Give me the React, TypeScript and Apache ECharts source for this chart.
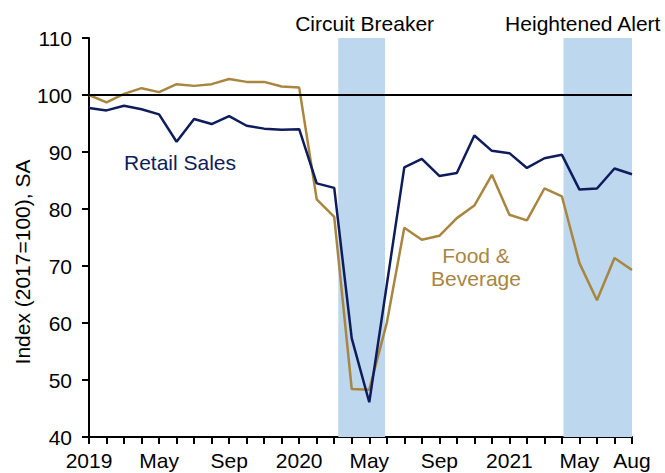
import React, { useEffect, useRef } from "react";
import * as echarts from "echarts";

const xLabels = [
  "2019", "", "", "", "May", "", "", "", "Sep", "", "", "",
  "2020", "", "", "", "May", "", "", "", "Sep", "", "", "",
  "2021", "", "", "", "May", "", "", "Aug",
];

const retailSales = [
  97.7, 97.3, 98.1, 97.5, 96.6, 91.8, 95.8, 94.9, 96.3, 94.6, 94.1, 93.9,
  94.0, 84.5, 83.7, 57.3, 46.1, 66.7, 87.3, 88.8, 85.8, 86.3, 92.9, 90.2,
  89.8, 87.2, 88.9, 89.5, 83.4, 83.6, 87.1, 86.1,
];

const foodBeverage = [
  100.0, 98.7, 100.2, 101.2, 100.5, 101.9, 101.6, 101.9, 102.8, 102.3, 102.3, 101.5,
  101.3, 81.7, 78.6, 48.4, 48.3, 60.0, 76.7, 74.6, 75.3, 78.4, 80.6, 86.0,
  79.0, 78.0, 83.6, 82.2, 70.5, 64.0, 71.4, 69.3,
];

const periods = [
  { name: "Circuit Breaker", from: 14.23, to: 16.9 },
  { name: "Heightened Alert", from: 27.09, to: 31 },
];

const NAVY = "#0E1C5C";
const GOLD = "#A8863F";
const SHADE = "#BDD7EE";
const FONT = "'Liberation Sans', Arial, sans-serif";
const FS = 21;

export default function App() {
  const ref = useRef<HTMLDivElement>(null);

  useEffect(() => {
    if (!ref.current) return;
    const chart = echarts.init(ref.current, undefined, { renderer: "svg" });
    const option = {
      animation: false,
      backgroundColor: "#ffffff",
      textStyle: { fontFamily: FONT },
      grid: { left: 89, right: 33, top: 38, bottom: 36, containLabel: false },
      xAxis: {
        type: "value",
        min: 0,
        max: xLabels.length - 1,
        interval: 1,
        splitLine: { show: false },
        axisLine: { show: true, lineStyle: { color: "#000", width: 2 } },
        axisTick: { show: true, length: 7, lineStyle: { color: "#000", width: 2 } },
        axisLabel: {
          show: true,
          showMinLabel: true,
          showMaxLabel: true,
          margin: 13,
          fontSize: FS,
          color: "#000",
          fontFamily: FONT,
          formatter: (v: number) => xLabels[Math.round(v)] ?? "",
        },
      },
      yAxis: {
        type: "value",
        min: 40,
        max: 110,
        interval: 10,
        splitLine: { show: false },
        axisLine: { show: true, lineStyle: { color: "#000", width: 2 } },
        axisTick: { show: true, length: 7, lineStyle: { color: "#000", width: 2 } },
        axisLabel: { margin: 17, fontSize: FS, color: "#000", fontFamily: FONT },
      },
      series: [
        {
          name: "Shading",
          type: "line",
          data: [],
          silent: true,
          markArea: {
            silent: true,
            itemStyle: { color: SHADE },
            label: {
              show: true,
              position: "top",
              distance: 4,
              fontSize: FS,
              color: "#000",
              fontFamily: FONT,
            },
            data: periods.map((p, i) => [
              {
                name: p.name,
                xAxis: p.from,
                yAxis: 110,
                label: { offset: [i === 0 ? 3 : -15, 0] },
              },
              { xAxis: p.to, yAxis: 40 },
            ]),
          },
          markLine: {
            silent: true,
            symbol: "none",
            label: { show: false },
            lineStyle: { color: "#000", width: 2, type: "solid" },
            data: [{ yAxis: 100 }],
          },
        },
        {
          name: "Food & Beverage",
          type: "line",
          data: foodBeverage.map((v, i) => [i, v]),
          showSymbol: false,
          symbol: "none",
          lineStyle: { color: GOLD, width: 2.5 },
          itemStyle: { color: GOLD },
          z: 3,
        },
        {
          name: "Retail Sales",
          type: "line",
          data: retailSales.map((v, i) => [i, v]),
          showSymbol: false,
          symbol: "none",
          lineStyle: { color: NAVY, width: 2.5 },
          itemStyle: { color: NAVY },
          z: 4,
        },
      ],
      graphic: [
        {
          type: "text",
          x: 22,
          y: 262,
          rotation: Math.PI / 2,
          style: {
            text: "Index (2017=100), SA",
            fontSize: FS,
            fontFamily: FONT,
            fill: "#000",
            align: "center",
            verticalAlign: "middle",
          },
        },
        {
          type: "text",
          x: 180,
          y: 162,
          style: {
            text: "Retail Sales",
            fontSize: FS,
            fontFamily: FONT,
            fill: NAVY,
            align: "center",
            verticalAlign: "middle",
          },
        },
        {
          type: "text",
          x: 476,
          y: 267,
          style: {
            text: "Food &\nBeverage",
            fontSize: FS,
            lineHeight: 23,
            fontFamily: FONT,
            fill: GOLD,
            align: "center",
            verticalAlign: "middle",
          },
        },
      ],
    };
    chart.setOption(option as any);
    return () => chart.dispose();
  }, []);

  return (
    <div
      ref={ref}
      style={{ position: "fixed", left: 0, top: 0, width: 665, height: 473 }}
    />
  );
}
